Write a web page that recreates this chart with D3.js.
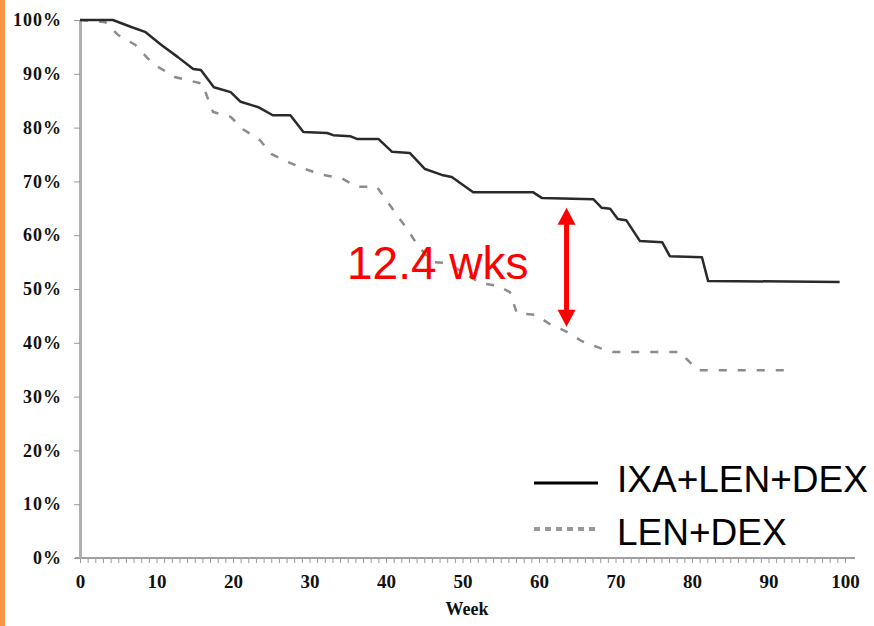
<!DOCTYPE html>
<html lang="en">
<head>
  <meta charset="UTF-8">
  <title>IXA+LEN+DEX vs LEN+DEX</title>
  <script src="https://d3js.org/d3.v7.min.js"></script>
  <style>
    body { margin: 0; background: #fff; }
  </style>
</head>
<body>
<svg width="874" height="626"></svg>
<script>
  // week / percent pairs
  var ixaWeeks = [0, 4.3, 6.7, 8.5, 10.6, 12.8, 14.8, 15.8, 17.5, 19.7, 21.0, 23.3, 25.2, 27.5, 29.2, 32.3, 33.1, 35.3, 36.2, 39.0,
    40.8, 43.1, 45.1, 47.3, 48.6, 51.4, 59.2, 60.4, 67.1, 68.2, 69.3, 70.3, 71.4, 73.2, 76.1, 77.1, 81.3, 82.1, 99.3];
  var ixaSurv = [100, 100, 98.7, 97.8, 95.4, 93.1, 90.9, 90.7, 87.5, 86.6, 84.8, 83.8, 82.3, 82.3, 79.2, 79.0, 78.6, 78.4, 77.9, 77.9,
    75.5, 75.3, 72.3, 71.2, 70.8, 68.0, 68.0, 66.9, 66.7, 65.1, 64.9, 63.0, 62.8, 58.9, 58.7, 56.1, 55.9, 51.5, 51.3];

  var lenWeeks = [0, 3.3, 5.0, 7.2, 8.9, 10.2, 12.4, 15.0, 16.1, 16.5, 17.4, 19.7, 21.3, 23.5, 25.0, 27.2, 29.4, 31.8, 34.2, 36.2,
    38.8, 40.3, 41.6, 42.7, 44.1, 46.0, 48.1, 50.6, 52.3, 54.6, 56.2, 57.1, 59.5, 61.4, 63.7, 65.6, 68.0, 69.7, 78.4, 79.7, 80.8, 92.5];
  var lenSurv = [100, 99.6, 97.2, 95.4, 92.8, 91.3, 89.4, 88.5, 88.1, 86.2, 82.9, 82.0, 79.7, 77.7, 75.1, 73.6, 72.3, 71.2, 70.6, 69.0,
    69.0, 66.0, 63.4, 61.3, 58.2, 55.0, 54.8, 52.6, 51.1, 50.6, 49.4, 45.5, 45.2, 43.5, 42.0, 40.3, 39.0, 38.3, 38.3, 36.4, 34.9, 34.9];

  var seriesNames = ['IXA+LEN+DEX', 'LEN+DEX'];
  var xTicks = [0, 10, 20, 30, 40, 50, 60, 70, 80, 90, 100];
  var yTicks = [0, 10, 20, 30, 40, 50, 60, 70, 80, 90, 100];
  var xLabel = 'Week';

  // the 12.4 wks gap marker
  var gapText = '12.4 wks';
  var gapWeek = 63.6;
  var gapTop = 65.1;
  var gapBottom = 43.0;
  var gapTextWeek = 34.9;
  var gapTextPct = 51.9;

  var svg = d3.select('svg');

  var x = d3.scaleLinear().domain([0, 100]).range([80, 845]);
  var y = d3.scaleLinear().domain([0, 100]).range([558, 20]);

  // orange strip on the left edge
  svg.append('rect')
    .attr('x', 0).attr('y', 0)
    .attr('width', 5).attr('height', 626)
    .attr('fill', '#f79646');

  // x axis: minor ticks every week, labels every 10
  var minor = svg.append('g')
    .attr('transform', 'translate(0,558)')
    .call(d3.axisBottom(x).tickValues(d3.range(0, 101, 1)).tickSize(5).tickSizeOuter(0).tickFormat(''));
  minor.select('.domain').remove();
  minor.selectAll('.tick line').attr('stroke', '#999').attr('stroke-width', 1);

  svg.append('line')
    .attr('x1', 75).attr('x2', 855)
    .attr('y1', 558).attr('y2', 558)
    .attr('stroke', '#a0a0a0').attr('stroke-width', 2);

  var xAxis = svg.append('g')
    .attr('transform', 'translate(0,558)')
    .call(d3.axisBottom(x).tickValues(xTicks).tickSize(0).tickPadding(17));
  xAxis.select('.domain').remove();
  xAxis.selectAll('text')
    .attr('font-family', '"Liberation Serif", serif')
    .attr('font-weight', 'bold')
    .attr('font-size', 19)
    .attr('fill', '#111');

  svg.append('text')
    .attr('x', 467).attr('y', 615)
    .attr('text-anchor', 'middle')
    .attr('font-family', '"Liberation Serif", serif')
    .attr('font-weight', 'bold')
    .attr('font-size', 18)
    .attr('fill', '#111')
    .text(xLabel);

  // y axis
  var yAxis = svg.append('g')
    .attr('transform', 'translate(80,0)')
    .call(d3.axisLeft(y).tickValues(yTicks).tickSize(6).tickSizeOuter(0).tickPadding(12)
      .tickFormat(function (d) { return d + '%'; }));
  yAxis.select('.domain').attr('stroke', '#b0b0b0').attr('stroke-width', 3);
  yAxis.selectAll('.tick line').attr('stroke', '#999');
  yAxis.selectAll('text')
    .attr('font-family', '"Liberation Serif", serif')
    .attr('font-weight', 'bold')
    .attr('font-size', 18)
    .attr('letter-spacing', 1)
    .attr('fill', '#111');

  var line = d3.line()
    .x(function (d) { return x(d.week); })
    .y(function (d) { return y(d.pct); });

  function pairs(weeks, surv) {
    return weeks.map(function (w, i) { return {week: w, pct: surv[i]}; });
  }

  svg.append('path')
    .datum(pairs(lenWeeks, lenSurv))
    .attr('fill', 'none')
    .attr('stroke', '#8c8c8c')
    .attr('stroke-width', 2.5)
    .attr('stroke-dasharray', '8,11')
    .attr('d', line);

  svg.append('path')
    .datum(pairs(ixaWeeks, ixaSurv))
    .attr('fill', 'none')
    .attr('stroke', '#2a2a2a')
    .attr('stroke-width', 2.5)
    .attr('stroke-linejoin', 'round')
    .attr('d', line);

  // red double arrow
  var ax = x(gapWeek), ay1 = y(gapTop), ay2 = y(gapBottom);
  svg.append('line')
    .attr('x1', ax).attr('x2', ax)
    .attr('y1', ay1 + 15).attr('y2', ay2 - 15)
    .attr('stroke', '#ff0000').attr('stroke-width', 5);
  svg.append('path')
    .attr('d', 'M' + ax + ',' + ay1 + 'L' + (ax - 9) + ',' + (ay1 + 17) + 'L' + (ax + 9) + ',' + (ay1 + 17) + 'Z')
    .attr('fill', '#ff0000');
  svg.append('path')
    .attr('d', 'M' + ax + ',' + ay2 + 'L' + (ax - 9) + ',' + (ay2 - 17) + 'L' + (ax + 9) + ',' + (ay2 - 17) + 'Z')
    .attr('fill', '#ff0000');

  svg.append('text')
    .attr('x', x(gapTextWeek)).attr('y', y(gapTextPct))
    .attr('font-family', '"Liberation Sans", Arial, sans-serif')
    .attr('font-size', 46)
    .attr('fill', '#ff0000')
    .text(gapText);

  // legend
  var legend = svg.append('g');
  legend.append('line')
    .attr('x1', 534).attr('x2', 598).attr('y1', 483).attr('y2', 483)
    .attr('stroke', '#000').attr('stroke-width', 3);
  legend.append('line')
    .attr('x1', 534).attr('x2', 598).attr('y1', 529).attr('y2', 529)
    .attr('stroke', '#999').attr('stroke-width', 4)
    .attr('stroke-dasharray', '6,5');
  legend.selectAll('text')
    .data(seriesNames)
    .enter().append('text')
    .attr('x', 617)
    .attr('y', function (d, i) { return 492 + i * 53; })
    .attr('font-family', '"Liberation Sans", Arial, sans-serif')
    .attr('font-size', 37)
    .attr('fill', '#000')
    .text(function (d) { return d; });
</script>
</body>
</html>
